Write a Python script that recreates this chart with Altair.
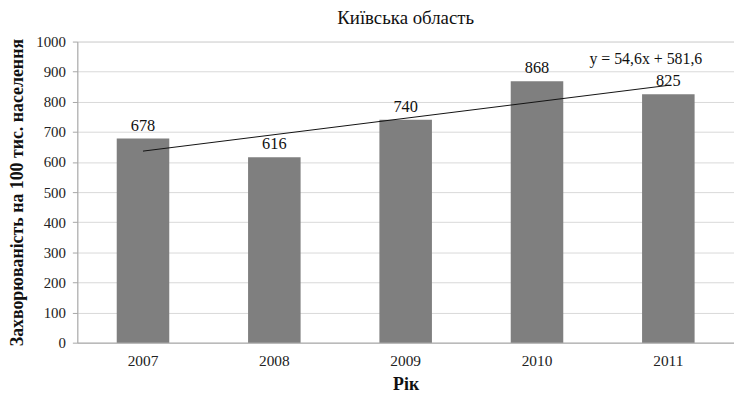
import altair as alt
import pandas as pd

years = ["2007", "2008", "2009", "2010", "2011"]
values = [678, 616, 740, 868, 825]
idx = [1, 2, 3, 4, 5]
y_ticks = [0, 100, 200, 300, 400, 500, 600, 700, 800, 900, 1000]
equation = "y = 54,6x + 581,6"

df = pd.DataFrame({"year": years, "value": values, "idx": idx})

FONT = "Liberation Serif"

x_enc = alt.X("year:O", title="Рік",
              axis=alt.Axis(labelAngle=0, labelFontSize=15.5, labelFont=FONT,
                            titleFont=FONT, titleFontSize=18, titleFontWeight="bold",
                            titlePadding=7, ticks=False, domainColor="#a6a6a6",
                            labelColor="#222", titleColor="#111", labelPadding=11),
              scale=alt.Scale(paddingInner=0.6, paddingOuter=0.3))

y_enc = alt.Y("value:Q", title="Захворюваність на 100 тис. населення",
              scale=alt.Scale(domain=[0, 1000], nice=False),
              axis=alt.Axis(values=y_ticks, format="d", labelOverlap=False,
                            labelFontSize=15, labelFont=FONT,
                            titleFont=FONT, titleFontSize=18, titleFontWeight="bold",
                            gridColor="#d9d9d9", domainColor="#a6a6a6", tickColor="#a6a6a6",
                            tickSize=5, labelPadding=7, labelColor="#222", titleColor="#111",
                            titlePadding=9))

base = alt.Chart(df)

bars = base.mark_bar(color="#7f7f7f").encode(x=x_enc, y=y_enc)

labels = base.mark_text(baseline="bottom", dy=-5, fontSize=16.5, font=FONT, color="#111").encode(
    x=x_enc,
    y=y_enc,
    text=alt.Text("value:Q"),
)

trend = base.transform_regression("idx", "value", method="linear").transform_calculate(
    year="'' + (2006 + datum.idx)"
).mark_line(color="#111", strokeWidth=1).encode(x=x_enc, y=y_enc)

eq = alt.Chart(pd.DataFrame({"t": [equation]})).mark_text(
    fontSize=16, font=FONT, color="#111", align="center", baseline="middle"
).encode(x=alt.value(574), y=alt.value(18), text="t:N")

chart = alt.layer(bars, trend, labels, eq).properties(
    width=663, height=304,
    title=alt.TitleParams("Київська область", font=FONT, fontSize=19, fontWeight="normal",
                          color="#111", anchor="middle", offset=7),
    autosize=alt.AutoSizeParams(type="none"),
    padding={"left": 70, "top": 32, "right": 0, "bottom": 57},
).configure_view(stroke=None).configure(background="white", font=FONT)

chart.save("out.html", embed_options={"renderer": "svg", "actions": False})
